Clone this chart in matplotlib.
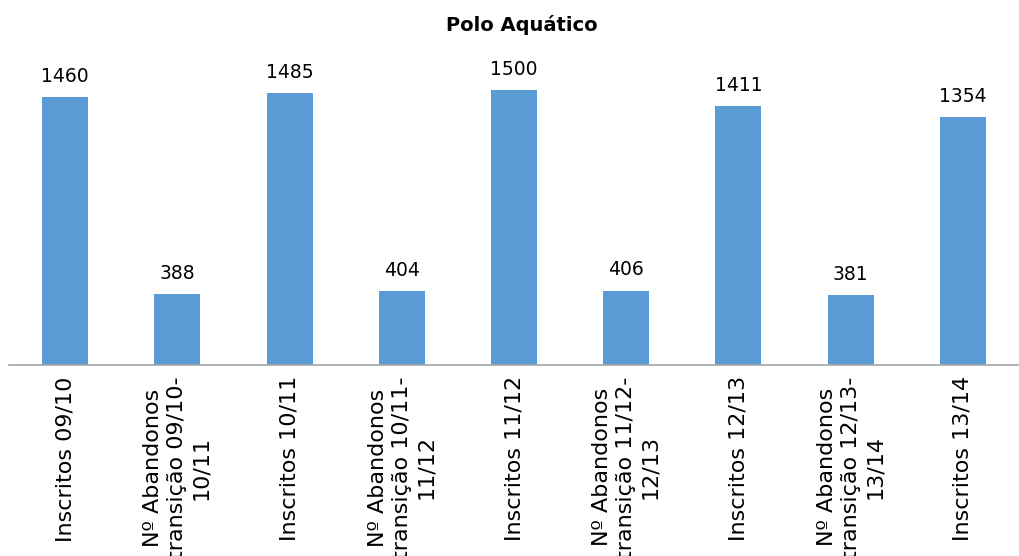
import matplotlib.pyplot as plt
import numpy as np

categories = [
    'Inscritos 09/10',
    'Nº Abandonos\ntransição 09/10-\n10/11',
    'Inscritos 10/11',
    'Nº Abandonos\ntransição 10/11-\n11/12',
    'Inscritos 11/12',
    'Nº Abandonos\ntransição 11/12-\n12/13',
    'Inscritos 12/13',
    'Nº Abandonos\ntransição 12/13-\n13/14',
    'Inscritos 13/14',
]
values = [1460, 388, 1485, 404, 1500, 406, 1411, 381, 1354]

fig = plt.figure(figsize=(10.19, 5.56), dpi=100)
ax = fig.add_axes([0.009, 0.3435, 0.991, 0.5275])

x = np.arange(len(categories))
bars = ax.bar(x, values, width=0.41, color='#5B9BD5')
ax.bar_label(bars, padding=8, fontsize=13.5, color='#000000')

ax.set_xlim(-0.5, len(categories) - 0.5)
ax.set_ylim(0, 1600)
ax.set_xticks(x)
ax.set_xticklabels(categories, rotation=90, fontsize=16, ha='center', va='top',
                   linespacing=1.25)
ax.tick_params(axis='x', length=0, pad=8)
ax.set_yticks([])

for s in ['top', 'right', 'left']:
    ax.spines[s].set_visible(False)
ax.spines['bottom'].set_color('#A6A6A6')
ax.spines['bottom'].set_linewidth(1.2)

fig.text(0.512, 0.955, 'Polo Aquático', fontsize=14, fontweight='bold',
         ha='center', va='center')

plt.savefig('out.png', dpi=100)
